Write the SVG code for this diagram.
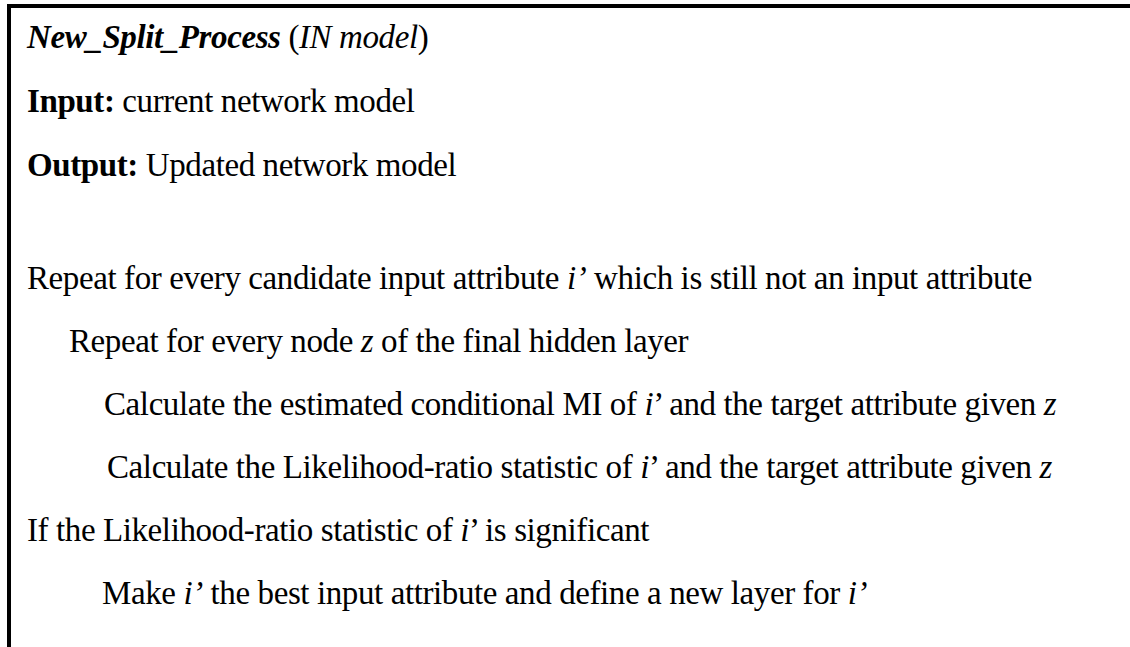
<svg xmlns="http://www.w3.org/2000/svg" width="1130" height="647" viewBox="0 0 1130 647">
  <style>
    text { font-family: "Liberation Serif", "Times New Roman", serif; font-size: 33px; letter-spacing: -0.4px; fill: #000; }
    .b { font-weight: bold; }
    .i { font-style: italic; }
    .frame { fill: none; stroke: #000; stroke-width: 4; }
  </style>
  <rect width="1130" height="647" fill="#fff"/>
  <!-- box frame: top and left edges only -->
  <path class="frame" d="M9,647 V6 H1130"/>
  <g id="header">
    <text x="27" y="48"><tspan class="b i">New_Split_Process</tspan> (<tspan class="i">IN model</tspan>)</text>
    <text x="27" y="112"><tspan class="b">Input:</tspan> current network model</text>
    <text x="27" y="176"><tspan class="b">Output:</tspan> Updated network model</text>
  </g>
  <g id="body">
    <text x="27" y="289">Repeat for every candidate input attribute <tspan class="i">i’</tspan> which is still not an input attribute</text>
    <text x="69" y="352">Repeat for every node <tspan class="i">z</tspan> of the final hidden layer</text>
    <text x="104" y="415">Calculate the estimated conditional MI of <tspan class="i">i</tspan>’ and the target attribute given <tspan class="i">z</tspan></text>
    <text x="107" y="478">Calculate the Likelihood-ratio statistic of <tspan class="i">i</tspan>’ and the target attribute given <tspan class="i">z</tspan></text>
    <text x="27" y="541">If the Likelihood-ratio statistic of <tspan class="i">i</tspan>’ is significant</text>
    <text x="102" y="604">Make <tspan class="i">i’</tspan> the best input attribute and define a new layer for <tspan class="i">i’</tspan></text>
  </g>
</svg>
